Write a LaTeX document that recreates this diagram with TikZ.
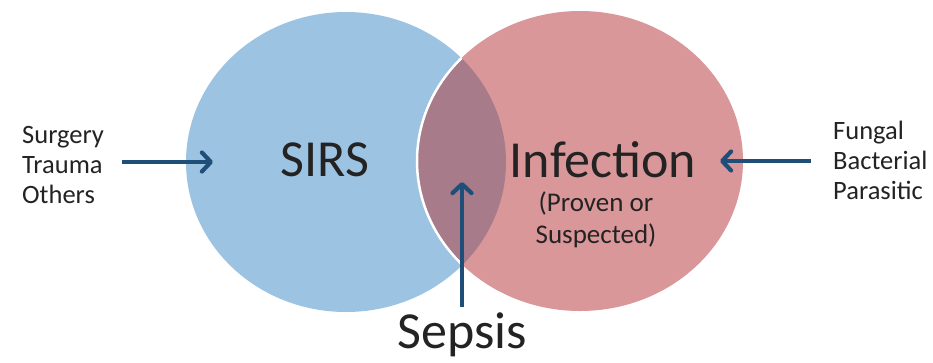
\documentclass[tikz,border=0pt]{standalone}
\usepackage{fontspec}
\setmainfont{Carlito}
\usepackage{xcolor}
\usepackage{tikz}
\usetikzlibrary{arrows.meta,positioning}
\definecolor{sirsblue}{RGB}{157,195,226}
\definecolor{infred}{RGB}{217,151,153}
\definecolor{sepsisvio}{RGB}{167,123,137}
\definecolor{arrowblue}{RGB}{31,78,121}
\definecolor{textgray}{RGB}{35,35,35}
\begin{document}
\begin{tikzpicture}[x=1pt,y=-1pt,
  side/.style={font=\fontsize{26.5}{30}\selectfont,align=left,inner sep=0pt,text=textgray},
  big/.style={font=\fontsize{52}{52}\selectfont,inner sep=0pt,text=textgray},
  small/.style={font=\fontsize{27}{32}\selectfont,align=center,inner sep=0pt,text=textgray},
  arrow/.style={line width=4.2pt,arrowblue,
    -{Straight Barb[length=9pt,width=19pt,line cap=round,line join=round]}}
]
\useasboundingbox (0,0) rectangle (933,362);
% Circles
\fill[sirsblue] (346,162) ellipse [x radius=160, y radius=150];
\fill[infred] (580,161) ellipse [x radius=163, y radius=150];
\begin{scope}
  \clip (346,162) ellipse [x radius=160, y radius=150];
  \fill[sepsisvio] (580,161) ellipse [x radius=163, y radius=150];
  \draw[white,line width=2.5pt] (580,161) ellipse [x radius=163, y radius=150];
\end{scope}

% Labels
\node[big,anchor=base] (sirs) at (325,176) {SIRS};
\node[big,anchor=base] (infection) at (603,177) {Infection};
\node[small,anchor=north] (proven) at (596,192) {(Proven or\\Suspected)};
\node[big,anchor=base] (sepsis) at (462,348) {Sepsis};
\node[side,anchor=west] (causes) at (22,165) {Surgery\\Trauma\\Others};
\node[side,anchor=west] (germs) at (833,160) {Fungal\\Bacterial\\Parasitic};

% Arrows
\coordinate (sirsin) at (213,162);
\coordinate (infin) at (720,161);
\coordinate (sepsisin) at (462,182);
\draw[arrow,shorten <=18pt] (causes.east |- sirsin) -- (sirsin);
\draw[arrow,shorten <=22pt] (germs.west |- infin) -- (infin);
\draw[arrow,shorten <=5pt] (sepsis.north) -- (sepsisin);
\end{tikzpicture}
\end{document}
